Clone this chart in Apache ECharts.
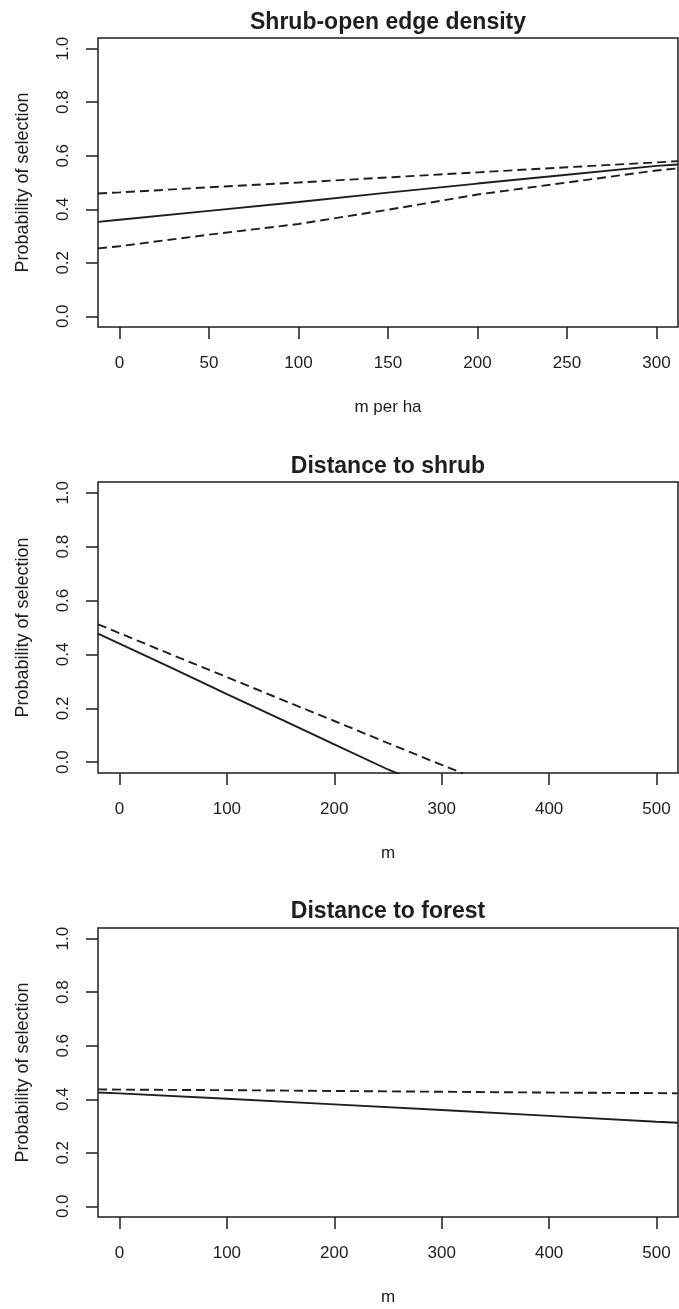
<!DOCTYPE html>
<html>
<head>
<meta charset="utf-8">
<script src="https://cdn.jsdelivr.net/npm/echarts@6/dist/echarts.min.js"></script>
<style>
html,body{margin:0;padding:0;background:#fff;}
#chart{width:679px;height:1309px;}
</style>
</head>
<body>
<div id="chart"></div>
<script>
// ---- Data ----
const titles = ['Shrub-open edge density', 'Distance to shrub', 'Distance to forest'];
const xNames = ['m per ha', 'm', 'm'];
const yName = 'Probability of selection';
const yTicks = [0, 0.2, 0.4, 0.6, 0.8, 1.0];
const xTicksEdge = [0, 50, 100, 150, 200, 250, 300];
const xTicksDist = [0, 100, 200, 300, 400, 500];

// Panel 1: shrub-open edge density
const edgeX     = [-12, 0, 50, 100, 150, 200, 250, 300, 312];
const edgeFit   = [0.353, 0.361, 0.394, 0.427, 0.462, 0.496, 0.529, 0.562, 0.567];
const edgeUpper = [0.459, 0.463, 0.482, 0.500, 0.519, 0.538, 0.557, 0.575, 0.580];
const edgeLower = [0.254, 0.262, 0.305, 0.345, 0.398, 0.455, 0.500, 0.545, 0.553];

// Panel 2: distance to shrub
const shrubX     = [-20, 0, 50, 100, 150, 200, 250, 300, 320];
const shrubFit   = [0.477, 0.440, 0.347, 0.253, 0.160, 0.066, -0.027, -0.111, -0.148];
const shrubUpper = [0.512, 0.479, 0.397, 0.316, 0.234, 0.153, 0.071, -0.010, -0.042];

// Panel 3: distance to forest
const forestX     = [-20, 0, 100, 200, 300, 400, 500, 520];
const forestFit   = [0.425, 0.422, 0.402, 0.381, 0.360, 0.338, 0.316, 0.312];
const forestUpper = [0.437, 0.436, 0.434, 0.431, 0.428, 0.425, 0.423, 0.422];

// ---- Layout ----
const FONT = '"Liberation Sans", Arial, sans-serif';
const INK = '#1e1e1e';
const grids = [
  {left: 98, width: 580, top: 38, height: 289},
  {left: 98, width: 580, top: 482, height: 291},
  {left: 98, width: 580, top: 928, height: 289}
];
const titleTops = [11, 455, 900];
const xRanges = [[-12, 312], [-20, 520], [-20, 520]];
const xTickSets = [xTicksEdge, xTicksDist, xTicksDist];

function pairs(xs, ys) { return xs.map((x, i) => [x, ys[i]]); }

const option = {
  backgroundColor: '#fff',
  animation: false,
  title: titles.map((t, i) => ({
    text: t, left: 388, top: titleTops[i], textAlign: 'center', padding: 0,
    textStyle: {fontFamily: FONT, fontSize: 23, fontWeight: 'bold', color: INK}
  })),
  grid: grids.map(g => Object.assign({show: true, borderColor: INK, borderWidth: 1.5, backgroundColor: 'transparent', containLabel: false}, g)),
  xAxis: grids.map((g, i) => ({
    type: 'value', gridIndex: i, min: xRanges[i][0], max: xRanges[i][1], position: 'bottom',
    name: xNames[i], nameLocation: 'middle', nameGap: 72,
    nameTextStyle: {fontFamily: FONT, fontSize: 17, color: INK},
    axisLine: {show: false, onZero: false},
    axisTick: {show: true, inside: false, length: 12, customValues: xTickSets[i], lineStyle: {color: INK, width: 1.5}},
    axisLabel: {show: true, customValues: xTickSets[i], margin: 28, fontFamily: FONT, fontSize: 17, color: INK},
    splitLine: {show: false}
  })),
  yAxis: grids.map((g, i) => ({
    type: 'value', gridIndex: i, min: -0.04, max: 1.04, position: 'left',
    name: yName, nameLocation: 'middle', nameGap: 66, nameRotate: 90,
    nameTextStyle: {fontFamily: FONT, fontSize: 18, color: INK},
    axisLine: {show: false, onZero: false},
    axisTick: {show: true, inside: false, length: 12, customValues: yTicks, lineStyle: {color: INK, width: 1.5}},
    axisLabel: {show: true, customValues: yTicks, rotate: 90, margin: 26, fontFamily: FONT, fontSize: 17, color: INK,
      formatter: v => Number(v).toFixed(1)},
    splitLine: {show: false}
  })),
  series: [
    {name: 'edge fit', xAxisIndex: 0, yAxisIndex: 0, data: pairs(edgeX, edgeFit)},
    {name: 'edge upper', xAxisIndex: 0, yAxisIndex: 0, data: pairs(edgeX, edgeUpper), dashed: true},
    {name: 'edge lower', xAxisIndex: 0, yAxisIndex: 0, data: pairs(edgeX, edgeLower), dashed: true},
    {name: 'shrub fit', xAxisIndex: 1, yAxisIndex: 1, data: pairs(shrubX, shrubFit)},
    {name: 'shrub upper', xAxisIndex: 1, yAxisIndex: 1, data: pairs(shrubX, shrubUpper), dashed: true},
    {name: 'forest fit', xAxisIndex: 2, yAxisIndex: 2, data: pairs(forestX, forestFit)},
    {name: 'forest upper', xAxisIndex: 2, yAxisIndex: 2, data: pairs(forestX, forestUpper), dashed: true}
  ].map(s => ({
    name: s.name, type: 'line', xAxisIndex: s.xAxisIndex, yAxisIndex: s.yAxisIndex, data: s.data,
    showSymbol: false, symbol: 'none', clip: true, smooth: false, silent: true,
    lineStyle: {color: INK, width: 1.9, type: s.dashed ? [9, 5] : 'solid'}
  }))
};

const chart = echarts.init(document.getElementById('chart'), null, {renderer: 'canvas'});
chart.setOption(option);
</script>
</body>
</html>
